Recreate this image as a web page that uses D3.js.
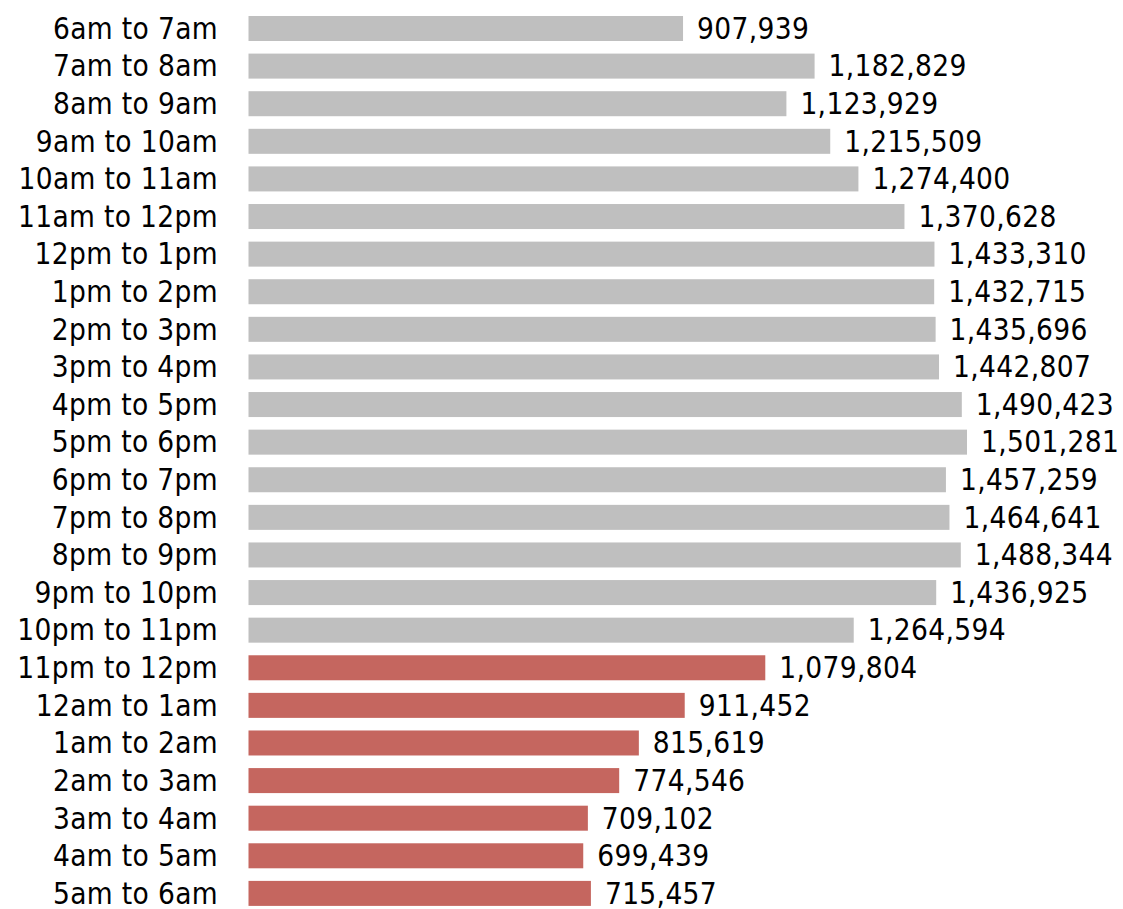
<!DOCTYPE html>
<html>
<head>
<meta charset="utf-8">
<script src="https://cdn.jsdelivr.net/npm/d3@7"></script>
<style>
  html, body { margin: 0; padding: 0; background: #fff; }
  svg text { font-family: "DejaVu Sans Condensed", "DejaVu Sans", sans-serif; font-stretch: condensed; font-size: 29.5px; letter-spacing: 0.35px; fill: #000; }
</style>
</head>
<body>
<svg id="chart" width="1123" height="909"></svg>
<script>
const categories = ["6am to 7am","7am to 8am","8am to 9am","9am to 10am","10am to 11am","11am to 12pm","12pm to 1pm","1pm to 2pm","2pm to 3pm","3pm to 4pm","4pm to 5pm","5pm to 6pm","6pm to 7pm","7pm to 8pm","8pm to 9pm","9pm to 10pm","10pm to 11pm","11pm to 12pm","12am to 1am","1am to 2am","2am to 3am","3am to 4am","4am to 5am","5am to 6am"];
const values = [907939,1182829,1123929,1215509,1274400,1370628,1433310,1432715,1435696,1442807,1490423,1501281,1457259,1464641,1488344,1436925,1264594,1079804,911452,815619,774546,709102,699439,715457];
const highlighted = ["11pm to 12pm","12am to 1am","1am to 2am","2am to 3am","3am to 4am","4am to 5am","5am to 6am"];

const svg = d3.select("#chart");
const x = d3.scaleLinear().domain([0, d3.max(values)]).range([248.5, 967]);
const y = d3.scaleBand().domain(categories).range([9.7, 912.2]).paddingInner(0.335).paddingOuter(0.1675);
const fmt = d3.format(",");
const data = categories.map((c, i) => ({c, v: values[i]}));

svg.selectAll("rect.bar").data(data).join("rect")
  .attr("class", "bar")
  .attr("x", x(0))
  .attr("y", d => y(d.c))
  .attr("width", d => x(d.v) - x(0))
  .attr("height", y.bandwidth())
  .attr("fill", d => highlighted.includes(d.c) ? "#C5665F" : "#BFBFBF");

svg.selectAll("text.cat").data(data).join("text")
  .attr("class", "cat")
  .attr("x", 218)
  .attr("y", d => y(d.c) + y.bandwidth() / 2)
  .attr("dy", "0.35em")
  .attr("text-anchor", "end")
  .text(d => d.c);

svg.selectAll("text.val").data(data).join("text")
  .attr("class", "val")
  .attr("x", d => x(d.v) + 14)
  .attr("y", d => y(d.c) + y.bandwidth() / 2)
  .attr("dy", "0.35em")
  .text(d => fmt(d.v));
</script>
</body>
</html>
